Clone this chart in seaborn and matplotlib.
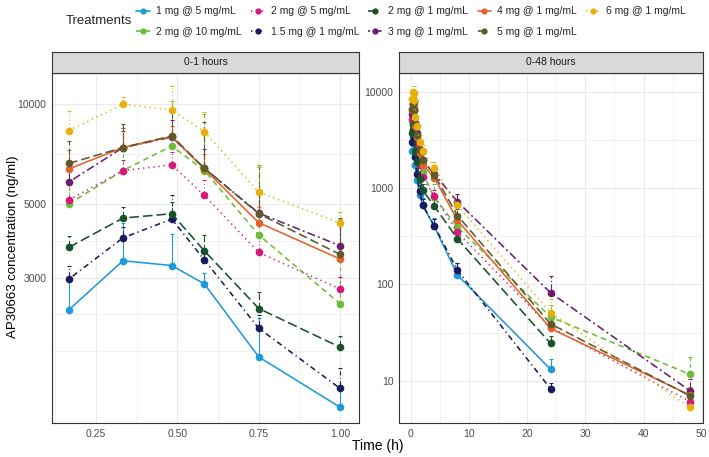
import numpy as np
import pandas as pd
import matplotlib
matplotlib.use("Agg")
import matplotlib.pyplot as plt
import matplotlib.ticker as mticker
from matplotlib.lines import Line2D
import seaborn as sns

# sampling times (h)
times = [0.167, 0.333, 0.483, 0.583, 0.75, 1.0, 1.5, 2, 4, 8, 24, 48]

treatments = ["1 mg @ 5 mg/mL", "2 mg @ 10 mg/mL", "2 mg @ 5 mg/mL",
              "1.5 mg @ 1 mg/mL", "2 mg @ 1 mg/mL", "3 mg @ 1 mg/mL",
              "4 mg @ 1 mg/mL", "5 mg @ 1 mg/mL", "6 mg @ 1 mg/mL"]

# mean concentration (ng/ml) and upper SD per treatment
conc_1mg_5 = [2400, 3370, 3260, 2870, 1730, 1220, 850, 660, 400, 125, 13.2, np.nan]
sd_1mg_5 = [550, 1010, 790, 230, 540, 180, 150, 120, 90, 40, 3.5, np.nan]

conc_2mg_10 = [5000, 6300, 7470, 6300, 4030, 2500, 1850, 1450, 800, 392, 46, 11.7]
sd_2mg_10 = [700, 2150, 2700, 3000, 2500, 2000, 900, 500, 300, 120, 15, 6.2]

conc_2mg_5 = [5140, 6300, 6550, 5300, 3570, 2770, 1750, 1300, 820, 347, 36, 6.1]
sd_2mg_5 = [700, 500, 600, 600, 500, 250, 300, 200, 130, 60, 8, 1.5]

conc_1p5mg_1 = [2970, 3950, 4500, 3390, 2110, 1390, 920, 670, 405, 140, 8.3, np.nan]
sd_1p5mg_1 = [270, 300, 820, 300, 200, 210, 150, 100, 70, 25, 1.2, np.nan]

conc_2mg_1 = [3700, 4530, 4670, 3610, 2420, 1850, 1250, 950, 650, 297, 24.5, np.nan]
sd_2mg_1 = [300, 350, 400, 420, 300, 150, 200, 150, 100, 50, 4.7, np.nan]

conc_3mg_1 = [5820, 7390, 7940, 6400, 4690, 3740, 2500, 1950, 1400, 720, 82, 7.9]
sd_3mg_1 = [800, 900, 1000, 900, 800, 600, 400, 300, 250, 150, 40, 2.5]

conc_4mg_1 = [6370, 7390, 7980, 6370, 4390, 3410, 2300, 1750, 1280, 462, 35, 7.1]
sd_4mg_1 = [900, 1100, 600, 700, 500, 400, 350, 300, 200, 80, 6, 1.5]

conc_5mg_1 = [6620, 7390, 8010, 6400, 4670, 3520, 2450, 1950, 1373, 518, 39, 7.0]
sd_5mg_1 = [1100, 1300, 1500, 2400, 1800, 1000, 400, 300, 250, 90, 8, 1.5]

conc_6mg_1 = [8310, 9980, 9590, 8250, 5420, 4380, 3000, 2400, 1630, 661, 51, 5.3]
sd_6mg_1 = [1200, 500, 1700, 1230, 1050, 360, 500, 400, 250, 100, 19, 1.0]

all_conc = [conc_1mg_5, conc_2mg_10, conc_2mg_5, conc_1p5mg_1, conc_2mg_1,
            conc_3mg_1, conc_4mg_1, conc_5mg_1, conc_6mg_1]
all_sd = [sd_1mg_5, sd_2mg_10, sd_2mg_5, sd_1p5mg_1, sd_2mg_1,
          sd_3mg_1, sd_4mg_1, sd_5mg_1, sd_6mg_1]

colors = ["#1f9ad6", "#6bbd3a", "#d8177c", "#1b1a5e", "#17522a",
          "#6b1d6e", "#e6622c", "#5d5a2c", "#e8b008"]
line_dashes = ["", (3.5, 2.5), (0.8, 2.4), (0.8, 2.2, 3.5, 2.2), (6, 2.5),
               (1.2, 2, 5, 2), "", (5.5, 2.5), (0.8, 2.4)]

rows = []
for trt, cc, ss in zip(treatments, all_conc, all_sd):
    for t, c, s in zip(times, cc, ss):
        rows.append({"trt": trt, "time": t, "conc": c, "sd": s})
df = pd.DataFrame(rows).dropna()

sns.set_theme(style="white")
plt.rcParams["font.family"] = ["Liberation Sans", "DejaVu Sans"]

fig = plt.figure(figsize=(7.09, 4.57), dpi=100)
W, H = 709, 457


def px_axes(x0, y0, x1, y1):
    return fig.add_axes([x0 / W, 1 - y1 / H, (x1 - x0) / W, (y1 - y0) / H])


pal = dict(zip(treatments, colors))
dash_map = dict(zip(treatments, line_dashes))
marker_map = {t: "o" for t in treatments}


def draw_panel(ax, d, capsize):
    for trt, col, dsh in zip(treatments, colors, line_dashes):
        g = d[d.trt == trt]
        if g.empty:
            continue
        eb = ax.errorbar(g.time, g.conc, yerr=[np.zeros(len(g)), g.sd], fmt="none",
                         ecolor=col, elinewidth=0.8, capsize=capsize, capthick=0.8, zorder=1)
        if dsh != "":
            eb.lines[2][0].set_linestyle((0, dsh))
    sns.lineplot(data=d, x="time", y="conc", hue="trt", style="trt",
                 hue_order=treatments, style_order=treatments, palette=pal,
                 dashes=dash_map, markers=marker_map, markersize=5.5,
                 markeredgewidth=0, linewidth=1.15, estimator=None,
                 legend=False, ax=ax, zorder=2)
    ax.set_yscale("log")
    ax.set_xlabel("")
    ax.set_ylabel("")
    ax.set_facecolor("white")
    for sp in ax.spines.values():
        sp.set_color("#333333")
        sp.set_linewidth(0.8)
    ax.grid(True, which="major", color="#ebebeb", linewidth=0.8)
    ax.grid(True, which="minor", color="#ebebeb", linewidth=0.45)
    ax.set_axisbelow(True)
    ax.tick_params(which="major", length=2.5, width=0.6, color="#333333",
                   labelsize=7.5, labelcolor="#4d4d4d", pad=1.5)
    ax.tick_params(which="minor", length=0)
    ax.yaxis.set_minor_formatter(mticker.NullFormatter())


def add_strip(x0, x1, label):
    sax = px_axes(x0, 51.5, x1, 73)
    sax.set_facecolor("#d9d9d9")
    sax.set_xticks([])
    sax.set_yticks([])
    for sp in sax.spines.values():
        sp.set_color("#333333")
        sp.set_linewidth(0.8)
    sax.text(0.5, 0.5, label, ha="center", va="center", fontsize=7.5, color="#1a1a1a",
             transform=sax.transAxes)


# left panel: 0-1 hours
ax1 = px_axes(52, 73, 359, 423)
draw_panel(ax1, df[df.time <= 1.0], capsize=1.5)
ax1.set_xlim(0.115, 1.058)
ax1.set_ylim(1094, 12390)
ax1.xaxis.set_major_locator(mticker.FixedLocator([0.25, 0.5, 0.75, 1.0]))
ax1.xaxis.set_minor_locator(mticker.FixedLocator([0.125, 0.375, 0.625, 0.875]))
ax1.xaxis.set_major_formatter(mticker.FixedFormatter(["0.25", "0.50", "0.75", "1.00"]))
ax1.yaxis.set_major_locator(mticker.FixedLocator([3000, 5000, 10000]))
ax1.yaxis.set_major_formatter(mticker.FixedFormatter(["3000", "5000", "10000"]))
ax1.yaxis.set_minor_locator(mticker.FixedLocator(
    [10 ** 3.255, 10 ** 3.366, 10 ** 3.588, 10 ** 3.849]))
add_strip(52, 359, "0-1 hours")

# right panel: 0-48 hours
ax2 = px_axes(399, 73, 703.3, 423)
draw_panel(ax2, df, capsize=1.5)
ax2.set_xlim(-2.06, 50.28)
ax2.set_ylim(3.66, 15560)
ax2.xaxis.set_major_locator(mticker.FixedLocator([0, 10, 20, 30, 40, 50]))
ax2.xaxis.set_minor_locator(mticker.FixedLocator([5, 15, 25, 35, 45]))
ax2.xaxis.set_major_formatter(mticker.FixedFormatter(["0", "10", "20", "30", "40", "50"]))
ax2.yaxis.set_major_locator(mticker.FixedLocator([10, 100, 1000, 10000]))
ax2.yaxis.set_major_formatter(mticker.FixedFormatter(["10", "100", "1000", "10000"]))
ax2.yaxis.set_minor_locator(mticker.FixedLocator([31.62, 316.2, 3162]))
add_strip(399, 703.3, "0-48 hours")

# axis titles
fig.text(377.5 / W, 1 - 446 / H, "Time (h)", ha="center", va="center",
         fontsize=10, color="black")
fig.text(13 / W, 1 - 247 / H, "AP30663 concentration (ng/ml)", ha="center",
         va="center", rotation=90, fontsize=9.5, color="black")

# legend on top
handles = []
for trt, col, dsh in zip(treatments, colors, line_dashes):
    h = Line2D([0], [0], color=col, marker="o", markersize=4.5, markeredgewidth=0,
               linewidth=1.2)
    if dsh != "":
        h.set_dashes(dsh)
    handles.append(h)
fig.text(66 / W, 1 - 21.5 / H, "Treatments", ha="left", va="center", fontsize=9.5)
fig.legend(handles, treatments, ncol=5, loc="upper left",
           bbox_to_anchor=(136 / W, 1 - 6.5 / H), frameon=False, fontsize=7.5,
           handlelength=1.3, handletextpad=0.6, columnspacing=0.9, labelspacing=1.0,
           borderaxespad=0, borderpad=0)

fig.savefig("out.png", dpi=100)
